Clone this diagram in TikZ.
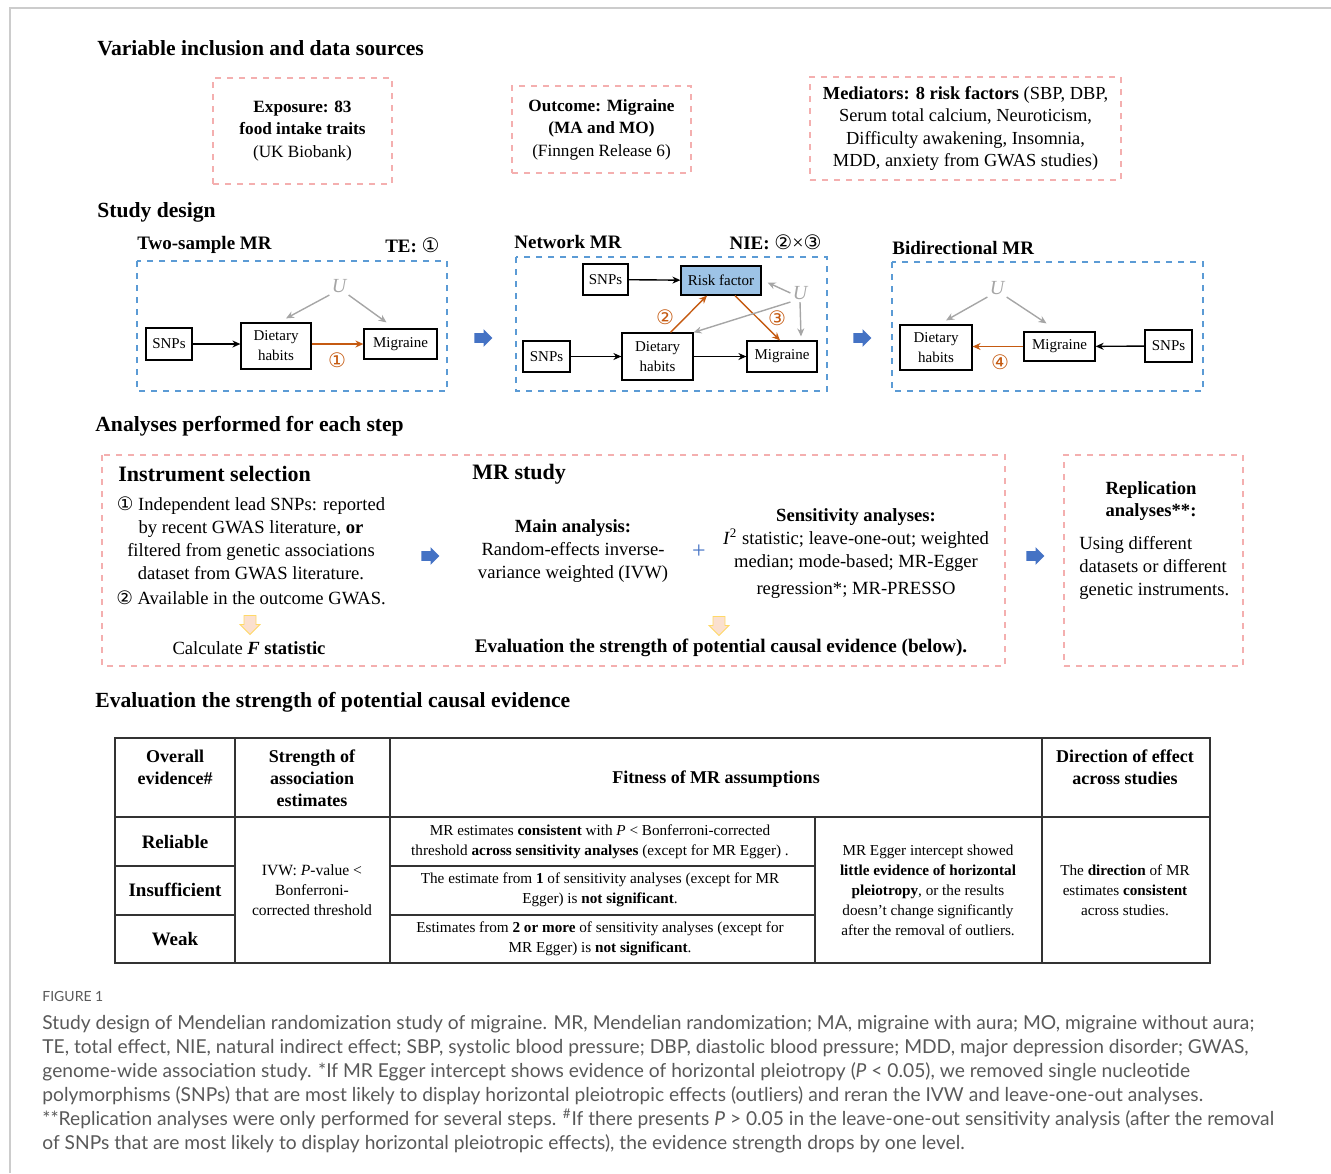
\documentclass[tikz,border=0pt]{standalone}
\usepackage{fontspec}
\setmainfont{Liberation Serif}
\newfontfamily\symfont{DejaVu Sans}
\newfontfamily\capfont{Lato}
\usetikzlibrary{arrows.meta,shapes.arrows}
\definecolor{pinkdash}{HTML}{F4AFAF}
\definecolor{bluedash}{HTML}{5B9BD5}
\definecolor{causeorange}{HTML}{C55A11}
\definecolor{confgray}{HTML}{A6A6A6}
\definecolor{riskblue}{HTML}{9DC3E6}
\definecolor{stepblue}{HTML}{4472C4}
\definecolor{peach}{HTML}{FBE0CF}
\definecolor{peachline}{HTML}{FFD966}
\definecolor{captext}{HTML}{595959}
\definecolor{framegray}{HTML}{CCCCCC}
\newcommand{\cnum}[1]{{\symfont #1}}
\newcommand{\fsz}[2]{\fontsize{#1}{#2}\selectfont}
\tikzset{
  heading/.style={anchor=west,inner sep=0,font=\bfseries\fsz{10.8}{12}},
  paneltitle/.style={inner sep=0,font=\bfseries\fsz{9.5}{11}},
  srcbox/.style={draw=pinkdash,dashed,line width=.6pt,align=center,font=\fsz{8.6}{11.25}},
  panelbox/.style={draw=bluedash,dashed,line width=.7pt},
  var/.style={draw,line width=.6pt,align=center,inner sep=0,font=\fsz{7.5}{10}},
  effect/.style={-{Stealth[length=4pt,width=3.5pt]},line width=.7pt},
  cause/.style={effect,draw=causeorange},
  conf/.style={effect,draw=confgray},
  latent/.style={inner sep=1pt,text=confgray,font=\itshape\fsz{10}{10}},
  pathnum/.style={inner sep=0,text=causeorange,font=\fsz{10}{10}},
  stepnext/.style={single arrow,fill=stepblue,inner sep=2.2pt,minimum height=9pt,minimum width=8.5pt,single arrow head extend=2pt},
  stepdown/.style={single arrow,shape border rotate=270,fill=peach,draw=peachline,line width=.4pt,inner sep=2.8pt,minimum height=9.5pt,minimum width=10pt,single arrow head extend=2pt},
  body/.style={align=center,inner sep=0,font=\fsz{9.3}{11.5}},
  cell/.style={align=center,inner sep=0,font=\fsz{7.6}{10}},
  cellhead/.style={align=center,inner sep=0,font=\bfseries\fsz{9}{11}},
  rowhead/.style={inner sep=0,font=\bfseries\fsz{9.5}{11}},
  tablerule/.style={draw=black!80,line width=.9pt}
}
\begin{document}
\begin{tikzpicture}[x=.5pt,y=-.5pt]
\useasboundingbox (0,0) rectangle (1331,1173);
\draw[framegray,line width=1pt] (10,1173) -- (10,8) -- (1331,8);

\node[heading] (hsrc) at (97,48) {Variable inclusion and data sources};
\node[srcbox,minimum width=89.5pt,minimum height=53pt] (exposure) at (302.5,131) {\textbf{Exposure: 83}\\\textbf{food intake traits}\\(UK Biobank)};
\node[srcbox,minimum width=89.5pt,minimum height=43.5pt] (outcome) at (601.5,129.5) {\textbf{Outcome: Migraine}\\\textbf{(MA and MO)}\\(Finngen Release 6)};
\node[srcbox,font=\fsz{9.2}{11.25},minimum width=155.5pt,minimum height=51.5pt] (mediators) at (965.5,128.5) {\textbf{Mediators: 8 risk factors} (SBP, DBP,\\Serum total calcium, Neuroticism,\\Difficulty awakening, Insomnia,\\MDD, anxiety from GWAS studies)};

\node[heading] (hdesign) at (97,212) {Study design};

\draw[panelbox] (137,261) rectangle (447,391);
\node[paneltitle,anchor=west] (ttwo) at (137,245) {Two-sample MR};
\node[paneltitle,anchor=east] (te) at (440,245) {TE: \textmd{\fsz{10}{11}\cnum{①}}};
\node[var,minimum width=23pt,minimum height=16pt] (snp1) at (169,344) {SNPs};
\node[var,minimum width=35pt,minimum height=23pt] (diet1) at (276,346) {Dietary\\habits};
\node[var,minimum width=36.5pt,minimum height=15pt] (mig1) at (400.5,344) {Migraine};
\node[latent] (u1) at (339,286) {U};
\draw[effect] (snp1.east) -- (snp1 -| diet1.west);
\draw[cause] (diet1.east |- mig1) -- (mig1.west);
\node[pathnum] (p1) at (337,360) {\cnum{①}};
\draw[conf] (u1.south west) -- ([xshift=5pt,yshift=2pt]diet1.north);
\draw[conf] (u1.south east) -- ([xshift=-7pt,yshift=3pt]mig1.north);
\node[stepnext] (go1) at (481,338) {};

\draw[panelbox] (516,257) rectangle (827,391);
\node[paneltitle,anchor=west] (tnet) at (514,242) {Network MR};
\node[paneltitle,anchor=east] (nie) at (822,242) {NIE: \textmd{\fsz{10}{11}\cnum{②}×\cnum{③}}};
\node[var,minimum width=22.5pt,minimum height=15.5pt] (snp2a) at (605.5,279.5) {SNPs};
\node[var,fill=riskblue,minimum width=40pt,minimum height=14.5pt] (risk) at (721,280.5) {Risk factor};
\node[var,minimum width=23.5pt,minimum height=15.5pt] (snp2b) at (546.5,356.5) {SNPs};
\node[var,minimum width=35.5pt,minimum height=23.5pt] (diet2) at (657.5,356.5) {Dietary\\habits};
\node[var,minimum width=35pt,minimum height=15.5pt] (mig2) at (782,356.5) {Migraine};
\node[latent] (u2) at (800,293) {U};
\draw[effect] (snp2a) -- (risk);
\draw[effect] (snp2b) -- (diet2);
\draw[effect] (diet2) -- (mig2);
\draw[cause] ([xshift=6.5pt]diet2.north) -- ([xshift=-7pt]risk.south);
\draw[cause] ([xshift=7pt]risk.south) -- ([xshift=-1pt]mig2.north);
\node[pathnum] (p2) at (665,317) {\cnum{②}};
\node[pathnum] (p3) at (777,318) {\cnum{③}};
\draw[conf] (u2.west) -- ([xshift=3pt,yshift=-1pt]risk.east);
\draw[conf] (u2.south west) -- (diet2.north east);
\draw[conf] (u2.south) -- ([xshift=9.5pt,yshift=2pt]mig2.north);
\node[stepnext] (go2) at (860,338) {};

\draw[panelbox] (892,262) rectangle (1203,391);
\node[paneltitle,anchor=west] (tbi) at (892,248) {Bidirectional MR};
\node[var,minimum width=36pt,minimum height=22.5pt] (diet3) at (936,347.5) {Dietary\\habits};
\node[var,minimum width=35.5pt,minimum height=14.5pt] (mig3) at (1059.5,346.5) {Migraine};
\node[var,minimum width=23.5pt,minimum height=16pt] (snp3) at (1168.5,346) {SNPs};
\node[latent] (u3) at (997,288) {U};
\draw[effect] (snp3) -- (mig3);
\draw[cause] (mig3.west) -- (mig3.west -| diet3.east);
\node[pathnum] (p4) at (1000,362) {\cnum{④}};
\draw[conf] (u3.south west) -- ([xshift=5pt,yshift=2pt]diet3.north);
\draw[conf] (u3.south east) -- ([xshift=-6.5pt,yshift=4pt]mig3.north);

\node[heading] (hanal) at (95,426) {Analyses performed for each step};
\draw[srcbox] (102,455) rectangle (1005,666);
\node[heading,font=\bfseries\fsz{11}{13}] (hinst) at (118,474) {Instrument selection};
\node[body] (inst) at (251,551) {\cnum{①} Independent lead SNPs: reported\\by recent GWAS literature, \textbf{or}\\filtered from genetic associations\\dataset from GWAS literature.\\[1pt]\cnum{②} Available in the outcome GWAS.};
\node[stepdown] (down1) at (250,622) {};
\node[body] (fstat) at (249,648) {Calculate \textbf{\textit{F} statistic}};
\node[stepnext] (go3) at (428,556) {};
\node[heading,font=\bfseries\fsz{11}{13}] (hmr) at (472,474) {MR study};
\node[body] (main) at (573,551) {\textbf{Main analysis:}\\Random-effects inverse-\\variance weighted (IVW)};
\node[inner sep=0,text=stepblue,font=\fsz{12}{12}] (plus) at (699,552) {+};
\node[body] (sens) at (856,554) {\textbf{Sensitivity analyses:}\\\textit{I}\textsuperscript{2} statistic; leave-one-out; weighted\\median; mode-based; MR-Egger\\[2pt]regression*; MR-PRESSO};
\node[stepdown] (down2) at (719,623) {};
\node[body,font=\bfseries\fsz{9.6}{11.5}] (evalnote) at (721,648) {Evaluation the strength of potential causal evidence (below).};
\node[stepnext] (go4) at (1033,556) {};
\node[srcbox,minimum width=89.5pt,minimum height=105.5pt] (replic) at (1153.5,560.5) {};
\node[body,font=\bfseries\fsz{9.3}{11}] (hrep) at (1151,501) {Replication\\analyses**:};
\node[body,align=left,anchor=west] (rep) at (1079,568) {Using different\\datasets or different\\genetic instruments.};

\node[heading] (heval) at (95,702) {Evaluation the strength of potential causal evidence};
\draw[tablerule] (115,738) rectangle (1210,963);
\draw[tablerule] (235,738) -- (235,963) (390,738) -- (390,963) (1042,738) -- (1042,963) (815,817) -- (815,963);
\draw[tablerule] (115,817) -- (1210,817);
\draw[tablerule] (115,866) -- (235,866) (390,866) -- (815,866) (115,915) -- (235,915) (390,915) -- (815,915);
\node[cellhead] (c11) at (175,767) {Overall\\evidence\#};
\node[cellhead] (c12) at (312,778) {Strength of\\association\\estimates};
\node[cellhead] (c13) at (716,779) {Fitness of MR assumptions};
\node[cellhead] (c14) at (1125,767) {Direction of effect\\across studies};
\node[rowhead] (r1) at (175,842) {Reliable};
\node[rowhead] (r2) at (175,890) {Insufficient};
\node[rowhead] (r3) at (175,939) {Weak};
\node[cell,font=\fsz{7.8}{10}] (ivw) at (312,890) {IVW: \textit{P}-value <\\Bonferroni-\\corrected threshold};
\node[cell] (fit1) at (600,842) {MR estimates \textbf{consistent} with \textit{P} < Bonferroni-corrected\\threshold \textbf{across sensitivity analyses} (except for MR Egger) .};
\node[cell] (fit2) at (600,890) {The estimate from \textbf{1} of sensitivity analyses (except for MR\\Egger) is \textbf{not significant}.};
\node[cell] (fit3) at (600,939) {Estimates from \textbf{2 or more} of sensitivity analyses (except for\\MR Egger) is \textbf{not significant}.};
\node[cell] (pleio) at (928,890) {MR Egger intercept showed\\\textbf{little evidence of horizontal}\\\textbf{pleiotropy}, or the results\\doesn't change significantly\\after the removal of outliers.};
\node[cell] (direc) at (1125,890) {The \textbf{direction} of MR\\estimates \textbf{consistent}\\across studies.};

\node[anchor=west,inner sep=0,text=captext,font=\capfont\fsz{7}{8}] (figlabel) at (42,996) {FIGURE 1};
\node[anchor=north west,inner sep=0,align=left,text=captext,font=\capfont\fsz{9.6}{12}] (caption) at (42,1015) {Study design of Mendelian randomization study of migraine. MR, Mendelian randomization; MA, migraine with aura; MO, migraine without aura;\\
TE, total effect, NIE, natural indirect effect; SBP, systolic blood pressure; DBP, diastolic blood pressure; MDD, major depression disorder; GWAS,\\
genome-wide association study. *If MR Egger intercept shows evidence of horizontal pleiotropy (\textit{P} < 0.05), we removed single nucleotide\\
polymorphisms (SNPs) that are most likely to display horizontal pleiotropic effects (outliers) and reran the IVW and leave-one-out analyses.\\
**Replication analyses were only performed for several steps. \textsuperscript{\#}If there presents \textit{P} > 0.05 in the leave-one-out sensitivity analysis (after the removal\\
of SNPs that are most likely to display horizontal pleiotropic effects), the evidence strength drops by one level.};
\end{tikzpicture}
\end{document}
